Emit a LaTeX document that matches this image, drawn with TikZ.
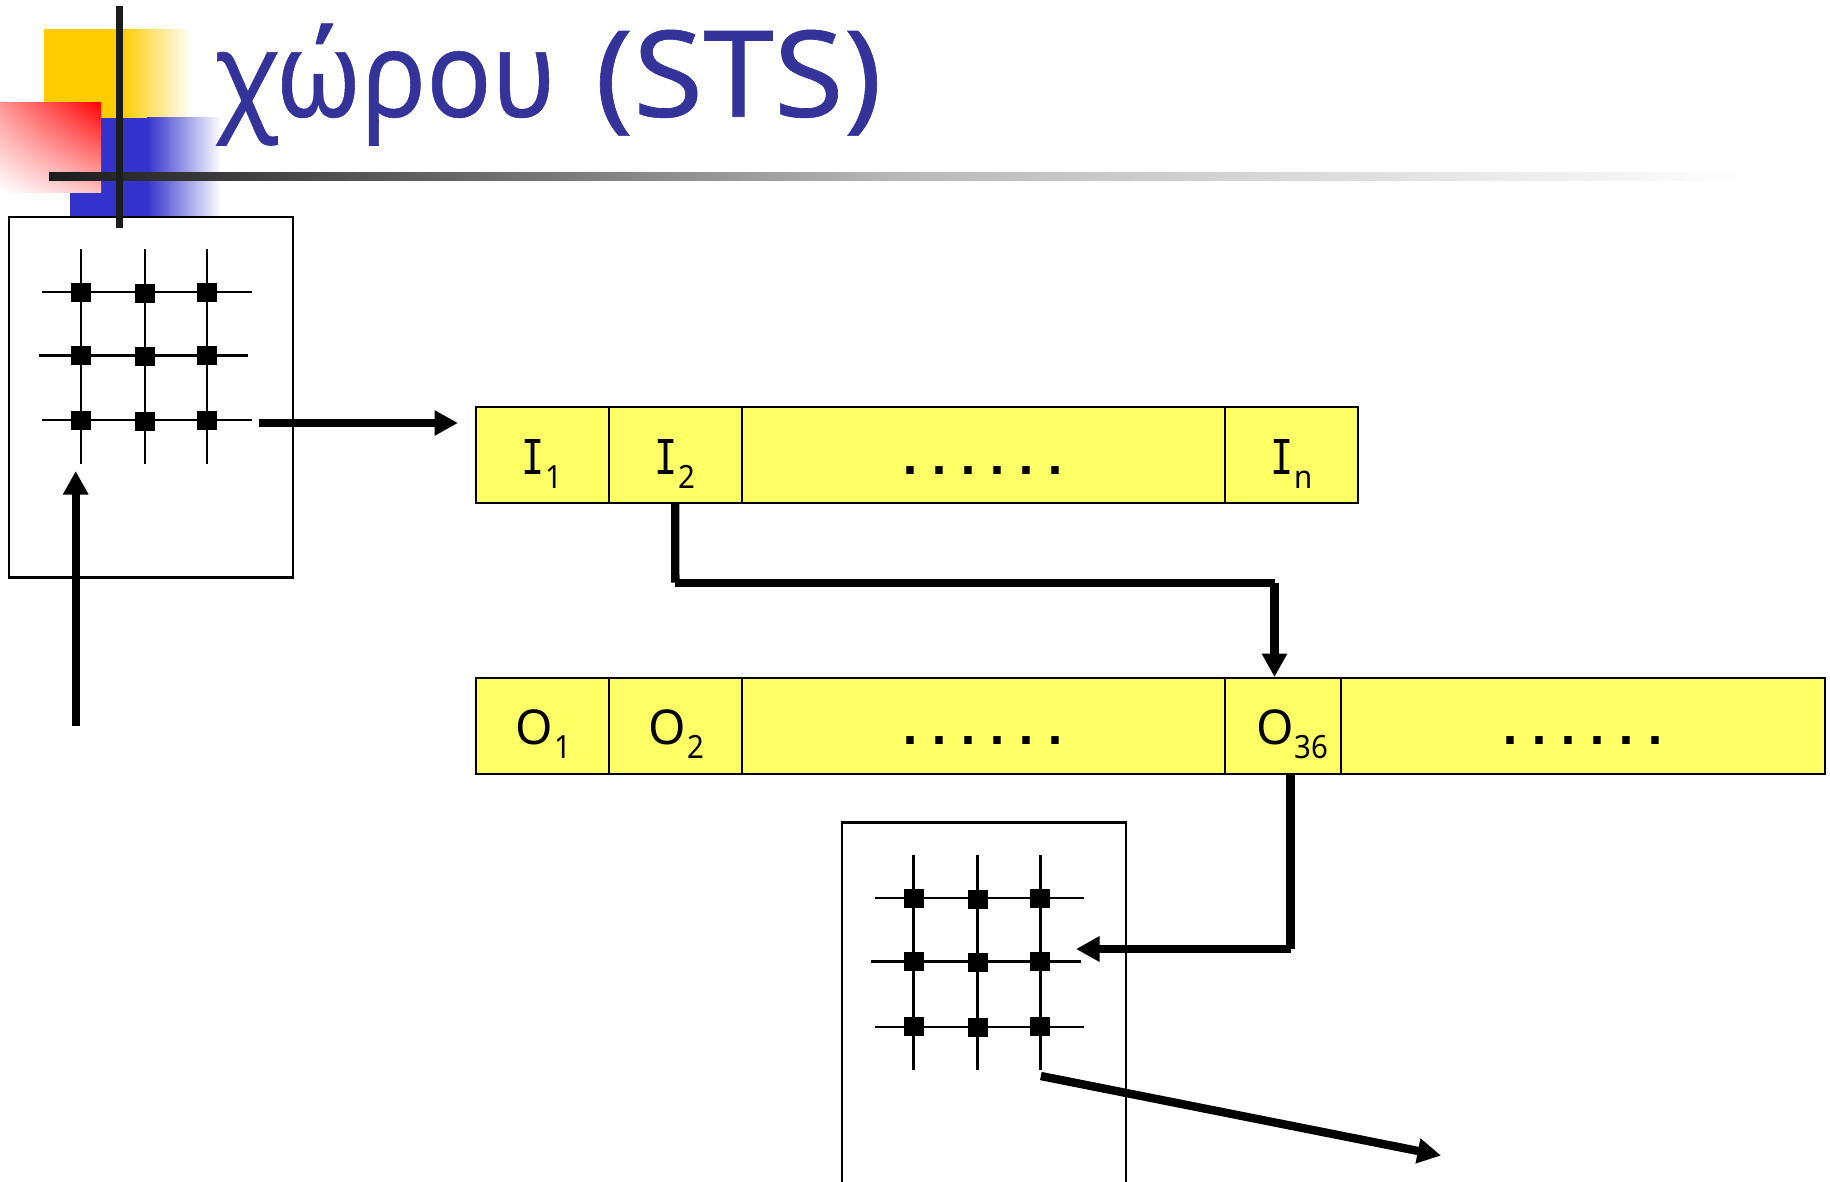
\documentclass[tikz,border=0pt]{standalone}
\usepackage{fontspec}
\usepackage{graphicx}
\usetikzlibrary{arrows.meta,shadings}
\setmainfont{Noto Sans}
\newfontfamily\monoI{DejaVu Sans Mono}
\newfontfamily\dotfont{DejaVu Sans}
\newfontfamily\titlefont[FakeBold=0.5]{Noto Sans}
\definecolor{titleblue}{HTML}{333399}
\definecolor{cellyellow}{HTML}{FFFF66}
\definecolor{decoyellow}{HTML}{FFCC00}
\definecolor{decoblue}{HTML}{3333CC}
\definecolor{decodark}{HTML}{1C1C1C}
\definecolor{decomid}{HTML}{B8B8B8}
\newcommand\subtxt[1]{\raisebox{-14pt}{\fontsize{32}{32}\selectfont\scalebox{.92}[1]{#1}}}
\newcommand\labI[1]{{\monoI\scalebox{.8}[1]{I}}\hspace{1pt}\subtxt{#1}}
\newcommand\labO[1]{\hspace{2pt}O\hspace{1pt}\subtxt{#1}}
\newcommand\dotrow{\dotfont\fontsize{42}{42}\selectfont\bfseries\foreach \d in {1,...,6}{\makebox[29pt]{.}}}
\tikzset{
  x=1pt,y=-1pt,
  cell/.style={draw=black,line width=1.9pt,fill=cellyellow,inner sep=0pt,outer sep=0pt,
    text height=67pt,text depth=29pt,font=\fontsize{48}{48}\selectfont,align=center,anchor=north west},
  routerbox/.style={draw=black,line width=2.4pt,inner sep=0pt,outer sep=0pt,anchor=north west},
  gridline/.style={line width=2.3pt,black},
  xpoint/.style={fill=black,inner sep=0pt,outer sep=0pt,minimum width=20pt,minimum height=19pt},
  bigarrow/.style={line width=8.4pt,black,-{Triangle[length=23.5pt,width=24pt]}},
  bigline/.style={line width=8.4pt,black},
}
% #1 prefix; #2,#3,#4 column x; #5,#6,#7 row y; #8 top; #9 bottom
\newcommand\switchgrid[9]{
  \foreach \c/\cx in {a/#2,b/#3,c/#4}{
    \coordinate (#1\c t) at (\cx,#8);
    \coordinate (#1\c b) at (\cx,#9);
    \draw[gridline] (#1\c t) -- (#1\c b);
  }
  \foreach \r/\ry/\lx in {1/#5/-39,2/#6/-42.5,3/#7/-39}{
    \pgfmathsetmacro\leftx{#2+\lx}
    \pgfmathsetmacro\rightx{\leftx+209.5}
    \coordinate (#1\r l) at (\leftx,\ry);
    \coordinate (#1\r r) at (\rightx,\ry);
    \draw[gridline] (#1\r l) -- (#1\r r);
    \node[xpoint] (#1a\r) at (#2,\ry) {};
    \node[xpoint] (#1b\r) at (#3,\ry+1) {};
    \node[xpoint] (#1c\r) at (#4,\ry) {};
  }
}
\begin{document}
\begin{tikzpicture}
\useasboundingbox (0,0) rectangle (1830,1181);
% decoration
\fill[decoyellow] (44,29) rectangle (122,118);
\shade[left color=decoyellow,right color=white] (122,29) rectangle (191,118);
\fill[decoblue] (70,118) rectangle (147,216);
\shade[left color=decoblue,right color=white] (147,117) rectangle (221,216);
\shade[shading=bilinear interpolation,lower left=white,upper right=red,upper left=red!42!white,lower right=red!25!white] (0,102) rectangle (101,192);
\shade[left color=decodark,right color=decomid] (49,172) rectangle (900,180);
\shade[left color=decomid,right color=white] (900,172) rectangle (1750,180);
% title
\node[anchor=base west,inner sep=0pt,text=titleblue,font=\titlefont\fontsize{120}{120}\selectfont] (title) at (214,116.7) {\scalebox{.9}[1]{χώρου}\hspace{39pt}\scalebox{1.06}[1]{(STS)}};
% first switch
\node[routerbox,minimum width=284pt,minimum height=360.7pt] (swA) at (9,216.8) {};
\fill[decodark] (116,6) rectangle (123,228);
\switchgrid{A}{81}{144.7}{207.3}{292.1}{355.4}{420.3}{248.9}{464.2}
% input buffer
\node[cell,minimum width=133pt] (i1) at (475.7,407.2) {\labI{1}};
\node[cell,minimum width=133pt] (i2) at (608.7,407.2) {\labI{2}};
\node[cell,minimum width=483pt] (idots) at (741.7,407.2) {\dotrow};
\node[cell,minimum width=133.3pt] (in) at (1224.7,407.2) {\labI{n}};
% output buffer
\node[cell,minimum width=133pt] (o1) at (475.7,677.8) {\labO{1}};
\node[cell,minimum width=133pt] (o2) at (608.7,677.8) {\labO{2}};
\node[cell,minimum width=483pt] (odots) at (741.7,677.8) {\dotrow};
\node[cell,minimum width=133.3pt] (o36) at (1224.7,677.8) {\labO{36}};
\node[cell,minimum width=483.7pt] (orest) at (1341,677.8) {\dotrow};
% second switch
\node[routerbox,minimum width=284pt,minimum height=380pt] (swB) at (842,822.4) {};
\switchgrid{B}{913.5}{977.6}{1040.4}{898}{961.5}{1026.7}{854.6}{1070}
% connectors
\coordinate (inStart) at (75.7,725.5);
\coordinate (inEnd) at (75.7,471);
\draw[bigarrow] (inStart) -- (inEnd);
\coordinate (fwdStart) at (259,423);
\coordinate (fwdEnd) at (458,423);
\draw[bigarrow] (fwdStart) -- (fwdEnd);
\coordinate (e2) at (675.3,582.7);
\coordinate (e3) at (1274.5,582.7);
\coordinate (e4) at (1274.5,677);
\draw[bigline] (i2.south) -- (e2);
\draw[bigline] (e2) -- (e3);
\draw[bigarrow] (e3) -- (e4);
\coordinate (f1) at (1290.6,773.8);
\coordinate (f2) at (1290.6,949);
\coordinate (f3) at (1076,949);
\draw[bigline] (f1) -- (f2);
\draw[bigarrow] (f2) -- (f3);
\coordinate (g1) at (1040.8,1076);
\coordinate (g2) at (1441,1155.5);
\draw[bigarrow] (g1) -- (g2);
\end{tikzpicture}
\end{document}
